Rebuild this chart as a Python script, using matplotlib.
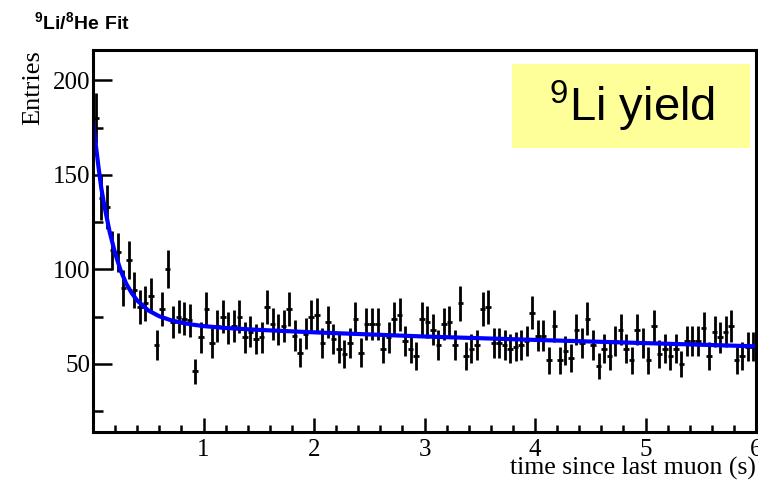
# 9Li/8He fit: time since last muon

import numpy as np
import matplotlib.pyplot as plt
from matplotlib.ticker import MultipleLocator
from matplotlib.patches import Rectangle

plt.rcParams['mathtext.fontset'] = 'custom'
plt.rcParams['mathtext.rm'] = 'Liberation Sans'
plt.rcParams['mathtext.bf'] = 'Liberation Sans:bold'

# histogram: 120 bins of 0.05 s between 0 and 6 s
bin_edges = np.linspace(0, 6, 121)
counts = [180, 138, 133, 110, 109, 90, 105, 89, 80, 82,
          86, 60, 79, 100, 72, 75, 74, 73, 46, 64,
          79, 61, 70, 75, 69, 70, 75, 64, 67, 63,
          64, 80, 71, 68, 70, 79, 65, 56, 66, 75,
          76, 61, 72, 63, 58, 55, 61, 74, 56, 71,
          71, 71, 58, 64, 74, 76, 62, 58, 54, 74,
          72, 68, 60, 71, 72, 60, 82, 54, 58, 60,
          79, 80, 61, 61, 60, 58, 59, 60, 62, 77,
          65, 65, 52, 70, 52, 57, 53, 68, 61, 74,
          60, 49, 58, 54, 62, 68, 58, 52, 68, 61,
          52, 70, 55, 58, 54, 58, 50, 62, 62, 62,
          69, 54, 67, 64, 67, 70, 52, 54, 59, 59]

# fit curve
fit_t = [0, 0.025, 0.05, 0.075, 0.1, 0.15, 0.2, 0.25, 0.3, 0.35, 0.4, 0.5,
         0.6, 0.7, 0.8, 0.9, 1.0, 1.2, 1.5, 2.0, 3.0, 4.0, 5.0, 6.0]
fit_y = [179, 166, 154, 143, 134.5, 120, 108.5, 99.5, 92.5, 87.5, 83.5, 78.3,
         75.2, 73.2, 71.8, 70.8, 70.0, 69.0, 68.0, 66.7, 64.5, 62.7, 61.0, 59.3]

centers = (bin_edges[:-1] + bin_edges[1:]) / 2
half_width = (bin_edges[1] - bin_edges[0]) / 2
counts = np.array(counts)

fig = plt.figure(figsize=(7.58, 4.82), dpi=100)
ax = fig.add_axes([93 / 758, 1 - 432 / 482, 663 / 758, 382 / 482])

ax.errorbar(centers, counts, yerr=np.sqrt(counts), xerr=half_width,
            fmt='none', ecolor='black', elinewidth=2, capsize=0)
ax.plot(fit_t, fit_y, color='#0000ff', lw=3)

ax.set_xlim(0, 6)
ax.set_ylim(14, 216)

ax.xaxis.set_major_locator(MultipleLocator(1))
ax.xaxis.set_minor_locator(MultipleLocator(0.2))
ax.yaxis.set_major_locator(MultipleLocator(50))
ax.yaxis.set_minor_locator(MultipleLocator(25))
ax.tick_params(which='both', direction='in', top=False, right=False,
               width=1.8, labelsize=18)
ax.tick_params(axis='y', which='major', length=14, pad=2)
ax.tick_params(axis='y', which='minor', length=7)
ax.tick_params(axis='x', which='major', length=10, pad=5)
ax.tick_params(axis='x', which='minor', length=5)
ax.set_xticks([1, 2, 3, 4, 5, 6])
for lab in ax.get_xticklabels() + ax.get_yticklabels():
    lab.set_fontfamily('Liberation Serif')
for sp in ax.spines.values():
    sp.set_linewidth(2.2)

fig.text(33 / 758, 1 - 50 / 482, 'Entries', rotation=90, ha='center', va='top',
         fontsize=19, family='Liberation Serif')
fig.text(756 / 758, 1 - 468 / 482, 'time since last muon (s)', ha='right',
         va='center', fontsize=18.5, family='Liberation Serif')
fig.text(34 / 758, 1 - 22 / 482, r'$\mathbf{^{9}Li/^{8}He\ Fit}$',
         ha='left', va='center', fontsize=14)

fig.patches.append(Rectangle((512 / 758, 1 - 148 / 482), 238 / 758, 84 / 482,
                             transform=fig.transFigure, facecolor='#ffff99',
                             edgecolor='none', zorder=5))
fig.text(632 / 758, 1 - 106 / 482, r'$^{9}$Li yield', ha='center', va='center',
         fontsize=34, family='Liberation Sans', zorder=6)

fig.savefig('out.png', dpi=100)
